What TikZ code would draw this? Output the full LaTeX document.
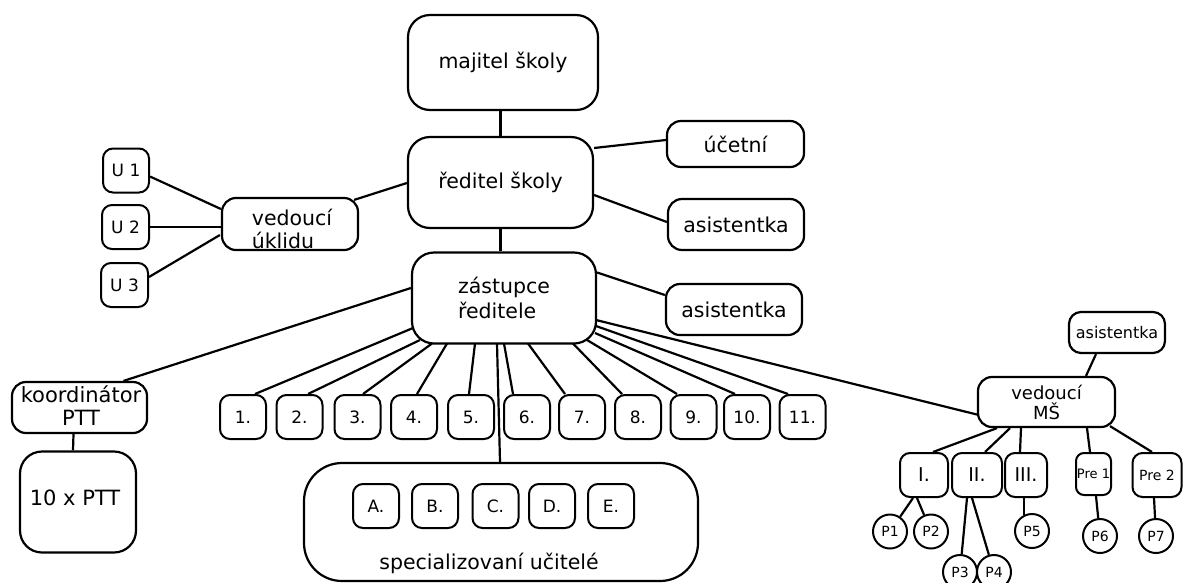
\documentclass[tikz,border=0pt]{standalone}
\usepackage{fontspec}
\setmainfont{DejaVu Sans}
\usetikzlibrary{calc,shapes.geometric}

\begin{document}
\begin{tikzpicture}[x=1pt,y=-1pt,
  every node/.style={inner sep=0pt},
  big/.style={draw, line width=2.2pt, rectangle, rounded corners=22pt,
    font=\fontsize{20.5}{25}\selectfont, align=center},
  mid/.style={draw, line width=2.2pt, rectangle, rounded corners=14pt,
    font=\fontsize{20.5}{25}\selectfont, align=center},
  small/.style={draw, line width=2pt, rectangle, rounded corners=10pt,
    minimum width=46pt, minimum height=44pt, font=\fontsize{17}{18}\selectfont},
  pers/.style={draw, line width=2pt, ellipse, minimum width=34pt,
    minimum height=34pt, font=\fontsize{14}{15}\selectfont},
  link/.style={line width=2.2pt}
]
\useasboundingbox (0,0) rectangle (1183,582);

% management chain
\node[big, minimum width=190pt, minimum height=95pt] (own) at (503,62.5) {majitel školy};
\node[big, minimum width=185pt, minimum height=91pt] (dir) at (500.5,182.5) {ředitel školy};
\node[big, minimum width=184pt, minimum height=91pt, align=left] (dep) at (504,298) {zástupce\\ředitele};

% staff beside the director and deputy
\node[mid, minimum width=137pt, minimum height=46pt] (acc) at (735.5,144) {účetní};
\node[mid, minimum width=136pt, minimum height=51pt] (as1) at (736,224.5) {asistentka};
\node[mid, minimum width=136pt, minimum height=51pt] (as2) at (734,309.5) {asistentka};

% cleaning staff
\node[mid, minimum width=136pt, minimum height=52pt] (cln) at (290,224) {};
\node[font=\fontsize{20.5}{23}\selectfont, align=left] (clnt) at (292,229) {vedoucí\\úklidu};
\node[small] (u1) at (126,170.5) {U 1};
\node[small, minimum width=47pt] (u2) at (125.5,227) {U 2};
\node[small, minimum width=47pt] (u3) at (124.5,285) {U 3};

% coordinator
\node[mid, minimum width=135pt, minimum height=51pt] (kor) at (79.5,407.5) {};
\node[font=\fontsize{21}{23}\selectfont, align=center] (kort) at (81,406) {koordinátor\\PTT};
\node[big, minimum width=116pt, minimum height=101pt] (ptt) at (78,502) {};
\node[font=\fontsize{21}{25}\selectfont] (pttt) at (75,498) {10 x PTT};

% classes 1-11
\foreach \n/\x in {1/243,2/299.5,3/357.5,4/414,5/471,6/527,7/582,8/638,9/693.5,10/747,11/802.5}
  \node[small] (n\n) at (\x,417) {\n.};

% specialised teachers
\node[draw, line width=2.2pt, rectangle, rounded corners=38pt,
      minimum width=394pt, minimum height=118pt] (spec) at (501,522) {};
\node[font=\fontsize{20.5}{25}\selectfont] (spect) at (489,563) {specializovaní učitelé};
\foreach \l/\x in {A/376,B/435,C/495.5,D/552,E/611}
  \node[small] (s\l) at (\x,506) {\l.};

% kindergarten
\node[mid, minimum width=137pt, minimum height=50pt, font=\fontsize{18}{20}\selectfont] (ms) at (1046.5,402) {vedoucí\\MŠ};
\node[mid, rounded corners=12pt, minimum width=96pt, minimum height=41pt,
      font=\fontsize{16}{18}\selectfont] (asm) at (1117,332.5) {asistentka};
\node[small, minimum width=48pt, font=\fontsize{19}{20}\selectfont] (c1) at (924,475) {I.};
\node[small, minimum width=50pt, font=\fontsize{19}{20}\selectfont] (c2) at (977,475) {II.};
\node[small, minimum width=42pt, font=\fontsize{19}{20}\selectfont] (c3) at (1026,475) {III.};
\node[small, minimum width=35pt, minimum height=42pt, rounded corners=8pt, font=\fontsize{13}{14}\selectfont] (pre1) at (1093.5,474) {Pre 1};
\node[small, minimum width=49pt, font=\fontsize{14}{14}\selectfont] (pre2) at (1157,475) {Pre 2};

\node[pers] (p1) at (890,531.5) {P1};
\node[pers] (p2) at (931,531.5) {P2};
\node[pers] (p3) at (960,572) {P3};
\node[pers] (p4) at (994,572) {P4};
\node[pers] (p5) at (1032,531) {P5};
\node[pers] (p6) at (1100,536) {P6};
\node[pers] (p7) at (1156,536) {P7};

% connectors
\begin{scope}[link]
\draw (dir.north |- own.south) -- (dir.north);
\draw (dir.south) -- (dir.south |- dep.north);
\draw ($(dir.east)+(0,-34.5)$) -- ($(acc.west)+(0,-4)$);
\draw ($(dir.east)+(0,12.5)$) -- ($(as1.west)+(0,-2.5)$);
\draw ($(dep.east)+(0,-25.5)$) -- ($(as2.west)+(0,-14.5)$);
\draw ($(cln.north east)+(-5,3)$) -- ($(dir.west)+(0,0.5)$);
\draw ($(u1.east)+(0,6)$) -- ($(cln.west)+(0,-15)$);
\draw (u2.east) -- (u2.east -| cln.west);
\draw ($(u3.east)+(0,-8)$) -- ($(cln.west)+(-1,11)$);
\draw ($(dep.west)+(0,-10)$) -- ($(kor.north)+(44,0)$);
\draw ($(kor.south)+(-6,0)$) -- ($(ptt.north)+(-5,0)$);

\foreach \n/\sx/\sy/\ex in {1/-91/30/12, 2/-84/42/8.5, 3/-72/45.5/5.5, 4/-57/45.5/3,
    5/-29/45.5/-2, 6/0/45.5/-14, 7/24/45.5/-17, 8/69/45.5/-16, 9/83/42/-16.5,
    10/91/35/-12, 11/92/28/-14.5}
  \draw ($(dep.center)+(\sx,\sy)$) -- ($(n\n.north)+(\ex,0)$);
\draw ($(dep.center)+(-7,45.5)$) -- ($(spec.north)+(-1,0)$);
\draw ($(dep.center)+(92,22)$) -- ($(ms.west)+(2,13)$);

\draw ($(asm.south)+(-21,0)$) -- ($(ms.north)+(39.5,0)$);
\draw ($(ms.south)+(-49.5,0)$) -- ($(c1.north)+(9,0)$);
\draw ($(ms.south)+(-36.5,0)$) -- ($(c2.north)+(8,0)$);
\draw ($(ms.south)+(-25.5,0)$) -- ($(c3.north)+(-6,0)$);
\draw ($(ms.south)+(40.5,0)$) -- ($(pre1.north)+(-3.5,0)$);
\draw ($(ms.south)+(63.5,-2)$) -- ($(pre2.north)+(-5,0)$);

\draw ($(c1.south)+(-11,0)$) -- (p1);
\draw ($(c1.south)+(-7,0)$) -- (p2);
\draw ($(c2.south)+(-10,0)$) -- (p3);
\draw ($(c2.south)+(-5,0)$) -- (p4);
\draw ($(c3.south)+(-2,0)$) -- ($(p5.north)+(-8,1.5)$);
\draw ($(pre1.south)+(2.5,0)$) -- (p6);
\draw ($(pre2.south)+(-3,0)$) -- (p7);
\end{scope}
\end{tikzpicture}
\end{document}
